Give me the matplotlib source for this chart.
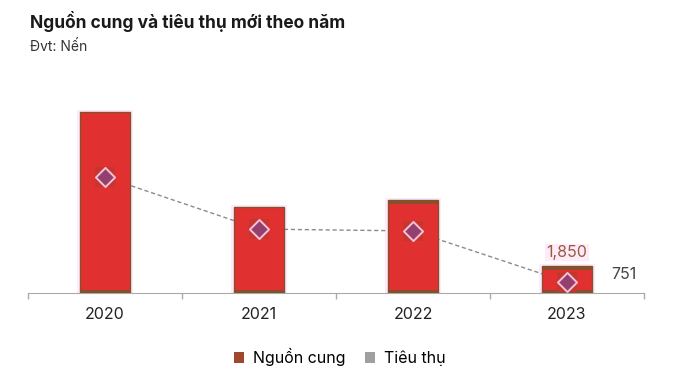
import matplotlib
matplotlib.use("Agg")
import matplotlib.pyplot as plt
from matplotlib.patches import Patch
import numpy as np

plt.rcParams['font.family'] = ['Inter', 'DejaVu Sans']

years = ['2020', '2021', '2022', '2023']
supply = [12400, 5900, 6370, 1850]
demand = [7950, 4380, 4250, 751]

RED = '#E03030'
BROWN = '#87502C'
PINK = '#FDEAFB'

fig = plt.figure(figsize=(6.8, 3.78), dpi=100)
ax = fig.add_axes([28 / 680, 85 / 378, 616 / 680, 193 / 378])

x = np.arange(len(years))
ymax = 13220
px = ymax / 193  # data units per pixel

# pale halo behind bars
ax.bar(x, [s + 2 * px for s in supply], width=0.37, color=PINK, zorder=1)
# dashed consumption line behind bars
ax.plot(x, demand, linestyle=(0, (3, 2)), color='#8A8A8A', linewidth=1, zorder=2)
ax.bar(x, supply, width=0.32, color=RED, edgecolor=BROWN, linewidth=1, zorder=3)
# brown bands at bottom and top of bars
ax.bar(x, [3.5 * px] * len(x), width=0.32, color=BROWN, zorder=4)
for i, s in enumerate(supply):
    if i >= 2:
        ax.bar(x[i], 4 * px, bottom=s - 4 * px, width=0.32, color=BROWN, zorder=4)

# darker square behind diamonds
ax.scatter(x, demand, marker='s', s=220, color='#C4362E', zorder=5, linewidths=0)
ax.scatter(x, demand, marker='D', s=95, color='#94406F', edgecolors='#F8C0D8',
           linewidths=1.4, zorder=6)

ax.text(x[3], supply[3] + 6 * px, f'{supply[3]:,}', ha='center', va='bottom',
        fontsize=11.5, color='#9B5B3B', zorder=7,
        bbox=dict(facecolor=PINK, edgecolor='none', pad=1))
ax.text(x[3] + 0.29, demand[3] + 8 * px, f'{demand[3]:,}', ha='left', va='center',
        fontsize=11.5, color='#444444', zorder=7)

ax.set_xlim(-0.5, 3.5)
ax.set_ylim(0, ymax)
ax.set_xticks(x)
ax.set_xticklabels(years, fontsize=11.5, color='#222222')
ax.tick_params(axis='x', which='major', length=0, pad=10)
ax.set_xticks(np.arange(-0.5, 4, 1), minor=True)
ax.tick_params(axis='x', which='minor', length=4, color='#AAAAAA', width=1)
ax.set_yticks([])
for side in ['top', 'right', 'left']:
    ax.spines[side].set_visible(False)
ax.spines['bottom'].set_color('#AAAAAA')

fig.text(30 / 680, 1 - 22 / 378, 'Nguồn cung và tiêu thụ mới theo năm', fontsize=12.5,
         fontweight='bold', color='#1A1A1A', va='center')
fig.text(30 / 680, 1 - 47 / 378, 'Đvt: Nến', fontsize=10, color='#333333', va='center')

handles = [Patch(facecolor='#A0482E', edgecolor='none', label='Nguồn cung'),
           Patch(facecolor='#A0A0A0', edgecolor='none', label='Tiêu thụ')]
fig.legend(handles=handles, loc='center', bbox_to_anchor=(0.5, 1 - 357 / 378), ncol=2,
           frameon=False, fontsize=11.5, handlelength=0.6, handleheight=0.6,
           handletextpad=0.6, columnspacing=1.2)

fig.savefig('out.png', dpi=100)
